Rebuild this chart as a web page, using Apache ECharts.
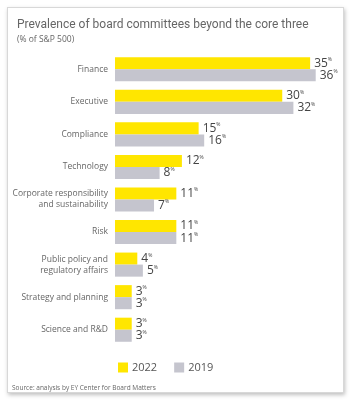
<!DOCTYPE html>
<html>
<head>
<meta charset="utf-8">
<script src="https://cdn.jsdelivr.net/npm/echarts@6/dist/echarts.min.js"></script>
<style>
  html, body { margin: 0; padding: 0; background: #fff; }
  #card {
    position: absolute; left: 7px; top: 7px; width: 335px; height: 384px;
    border: 1px solid #d8d8d8; box-shadow: 1px 2px 4px rgba(0,0,0,0.25); background: #fff;
  }
  #main { position: absolute; left: 0; top: 0; width: 354px; height: 401px; }
</style>
</head>
<body>
<div id="card"></div>
<div id="main"></div>
<script>
// 数据
var categories = ['Finance', 'Executive', 'Compliance', 'Technology',
  'Corporate responsibility\nand sustainability', 'Risk',
  'Public policy and\nregulatory affairs', 'Strategy and planning', 'Science and R&D'];
var values2022 = [35, 30, 15, 12, 11, 11, 4, 3, 3];
var values2019 = [36, 32, 16, 8, 7, 11, 5, 3, 3];
var seriesNames = ['2022', '2019'];

var font = '"Open Sans", sans-serif';

var myChart = echarts.init(document.getElementById('main'));

var valueLabel = {
  show: true,
  position: 'right',
  distance: 4,
  formatter: function (p) { return '{n|' + p.value + '}{p|%}'; },
  rich: {
    n: { fontSize: 12, color: '#444', fontFamily: font },
    p: { fontSize: 5, color: '#444', fontFamily: font, padding: [0, 0, 7, 0] }
  }
};

var option = {
  animation: false,
  textStyle: { fontFamily: font },
  title: {
    text: 'Prevalence of board committees beyond the core three',
    subtext: '(% of S&P 500)',
    left: 12,
    top: 14,
    itemGap: 4,
    textStyle: { fontSize: 12, fontWeight: 'normal', color: '#666', fontFamily: 'Roboto, sans-serif' },
    subtextStyle: { fontSize: 8.5, color: '#666', fontFamily: font }
  },
  legend: {
    data: seriesNames,
    left: 113,
    top: 357,
    itemWidth: 10,
    itemHeight: 10,
    itemGap: 17,
    icon: 'rect',
    textStyle: { fontSize: 11, color: '#555', fontFamily: font, padding: [0, 0, 0, -1] }
  },
  grid: { left: 115, right: 16, top: 53, bottom: 55 },
  xAxis: {
    type: 'value', min: 0, max: 40, show: false
  },
  yAxis: {
    type: 'category',
    data: categories,
    inverse: true,
    axisLine: { show: false },
    axisTick: { show: false },
    axisLabel: { fontSize: 8.5, color: '#666', margin: 7, lineHeight: 11, fontFamily: font }
  },
  graphic: [{
    type: 'text',
    left: 12,
    top: 385,
    style: { text: 'Source: analysis by EY Center for Board Matters', fontSize: 6.5, fill: '#666', fontFamily: font }
  }],
  series: [
    {
      name: seriesNames[0], type: 'bar', data: values2022,
      itemStyle: { color: '#ffe600' },
      barGap: '0%', barCategoryGap: '26%',
      label: valueLabel
    },
    {
      name: seriesNames[1], type: 'bar', data: values2019,
      itemStyle: { color: '#c5c5ce' },
      label: valueLabel
    }
  ]
};

myChart.setOption(option);
</script>
</body>
</html>
